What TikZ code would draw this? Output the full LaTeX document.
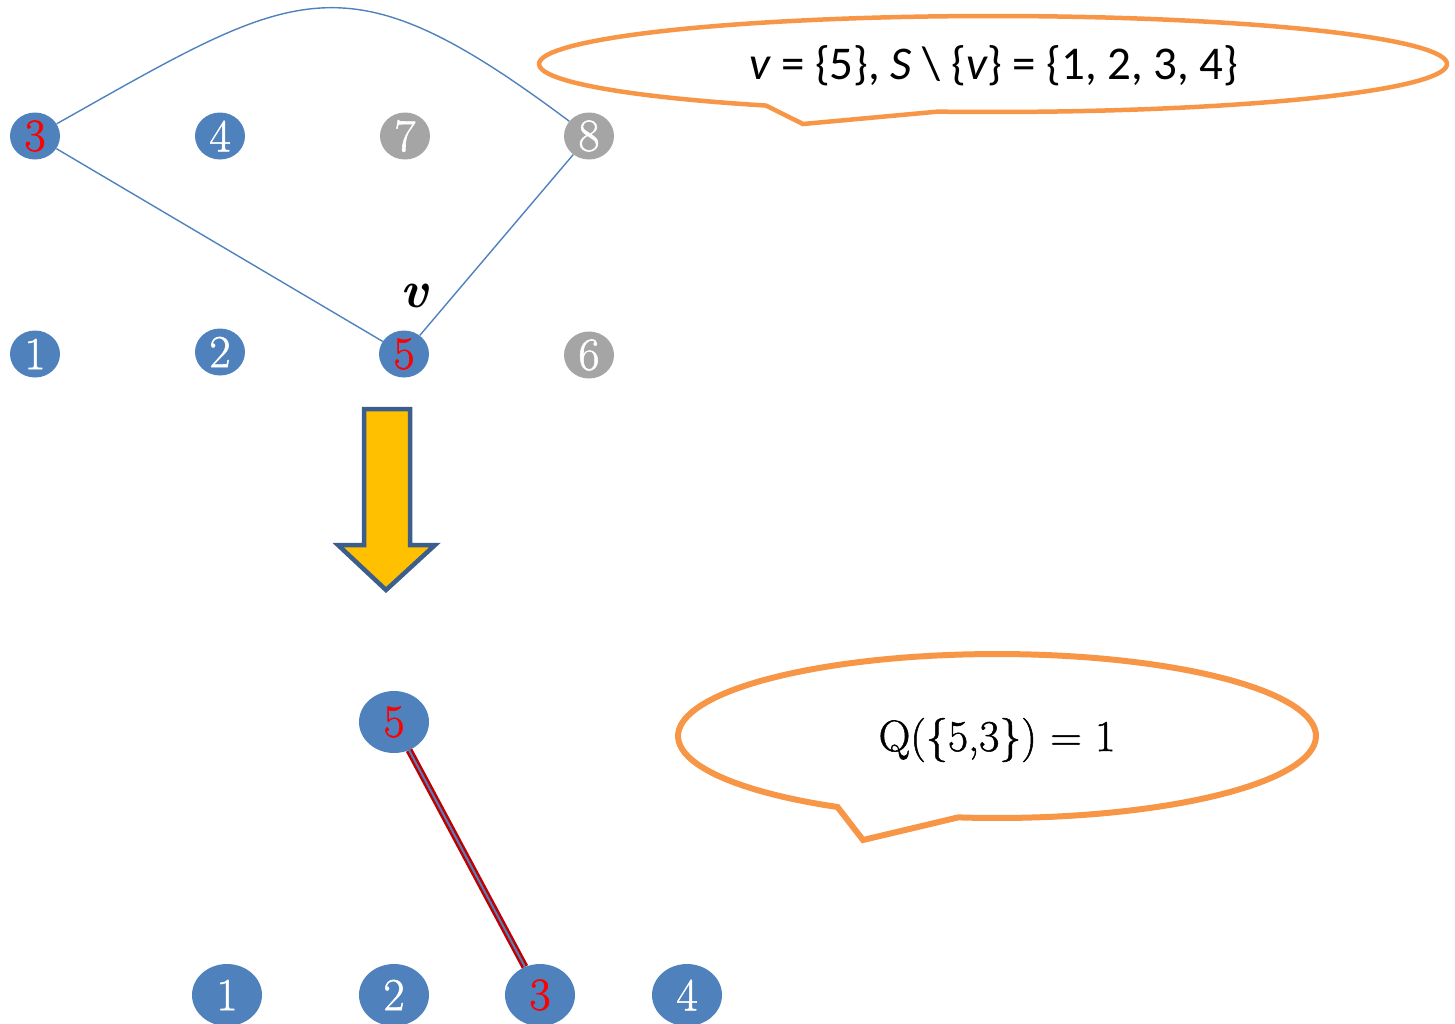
\documentclass[tikz,border=0pt]{standalone}
\usepackage{fontspec}
\newfontfamily\calib{Carlito}
\newfontfamily\numfont[FakeBold=1.2]{Latin Modern Roman}
\newfontfamily\vfont{Latin Modern Roman}
\usetikzlibrary{shapes.geometric}
\definecolor{nodeblue}{HTML}{4F81BD}
\definecolor{nodegrey}{HTML}{A5A5A5}
\definecolor{calloutc}{HTML}{F79646}
\definecolor{arrowfill}{HTML}{FFC000}
\definecolor{arrowline}{HTML}{3B5E8C}
\definecolor{edgered}{HTML}{C00000}
\begin{document}
\begin{tikzpicture}[x=1pt,y=-1pt,
  vtx/.style={ellipse, inner sep=0pt, minimum width=50pt, minimum height=47pt,
    text=white, font=\numfont\fontsize{46}{46}\selectfont},
  bvtx/.style={vtx, minimum width=70pt, minimum height=62pt},
  bluev/.style={fill=nodeblue},
  greyv/.style={fill=nodegrey},
  redtxt/.style={text=red},
  gedge/.style={draw=nodeblue, line width=1.4pt},
  callout/.style={draw=calloutc, fill=white, line join=miter},
  bubbletext/.style={inner sep=0pt, text=black}]
\useasboundingbox (0,0) rectangle (1455,1023);

% top graph
\node[vtx,bluev,redtxt] (t3) at (35,136) {3};
\node[vtx,bluev] (t4) at (220,136) {4};
\node[vtx,greyv] (t7) at (405,136) {7};
\node[vtx,greyv] (t8) at (589,136) {8};
\node[vtx,bluev] (t1) at (35,354) {1};
\node[vtx,bluev] (t2) at (220,352) {2};
\node[vtx,bluev,redtxt] (t5) at (404,354) {5};
\node[vtx,greyv] (t6) at (589,355) {6};
\node[inner sep=0pt, font=\vfont\bfseries\itshape\fontsize{52}{52}\selectfont] (vlab) at (414,296) {v};

\draw[gedge] (t3) -- (t5);
\draw[gedge] (t8) -- (t5);
\draw[gedge] (t3) .. controls (298,-12) and (343,-48) .. (t8);

% top callout
\draw[callout, line width=4.5pt]
  plot[domain=120:457, samples=120] ({993+454*cos(\x)}, {64+48*sin(\x)})
  -- (803,124) -- cycle;
\node[bubbletext, font=\calib\fontsize{47}{47}\selectfont] (c1) at (994,66)
  {\itshape v\upshape{} = \{5\}, \itshape S\upshape{} \textbackslash{} \{\itshape v\upshape\} = \{1, 2, 3, 4\}};

% arrow
\draw[fill=arrowfill, draw=arrowline, line width=4.5pt, line join=miter]
  (364,409) -- (410,409) -- (410,545) -- (435,545) -- (386,590) -- (338,545) -- (364,545) -- cycle;

% bottom graph
\node[bvtx,bluev,redtxt] (b5) at (394,722) {5};
\node[bvtx,bluev] (b1) at (227,995) {1};
\node[bvtx,bluev] (b2) at (394,995) {2};
\node[bvtx,bluev,redtxt] (b3) at (540,995) {3};
\node[bvtx,bluev] (b4) at (687,995) {4};
\draw[draw=edgered, line width=7pt] (b5) -- (b3);
\draw[draw=nodeblue, line width=2pt] (b5) -- (b3);

% bottom callout
\draw[callout, line width=6pt]
  plot[domain=120:457, samples=120] ({997+319*cos(\x)}, {736+82*sin(\x)})
  -- (863,840) -- cycle;
\node[bubbletext, font=\numfont\fontsize{44}{44}\selectfont] (c2) at (997,740)
  {Q(\{5,3\}) = 1};
\end{tikzpicture}
\end{document}
